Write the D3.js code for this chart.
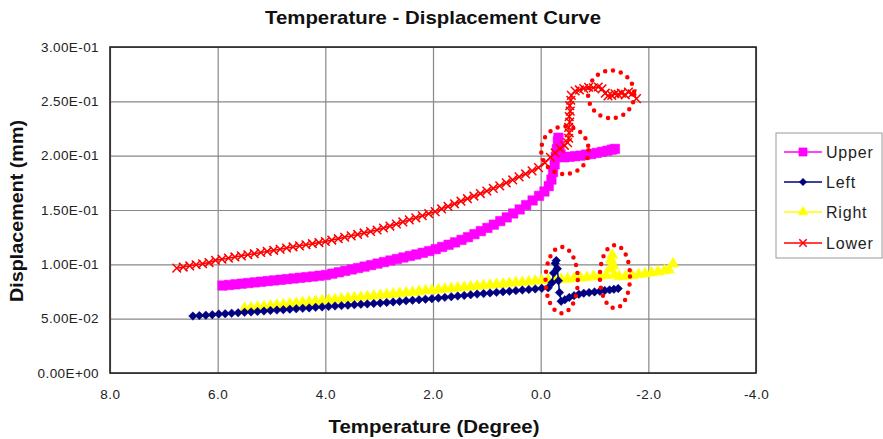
<!DOCTYPE html>
<html>
<head>
<meta charset="utf-8">
<script src="https://cdn.jsdelivr.net/npm/d3@7"></script>
<style>
  body { margin: 0; background: white; }
  svg { font-family: "Liberation Sans", Arial, sans-serif; }
</style>
</head>
<body>
<svg id="chart" width="883" height="439"></svg>
<script>
//Tick values
var xTicks = [8, 6, 4, 2, 0, -2, -4];
var yTicks = [0, 0.05, 0.1, 0.15, 0.2, 0.25, 0.3];
var yTickLabels = ["0.00E+00", "5.00E-02", "1.00E-01", "1.50E-01", "2.00E-01", "2.50E-01", "3.00E-01"];

//Series names
var seriesNames = ["Upper", "Left", "Right", "Lower"];

//Upper
var upperTemp = [5.91, 5.79, 5.67, 5.55, 5.43, 5.31, 5.19, 5.07, 4.95, 4.83, 4.71, 4.59, 4.47, 4.35, 4.23, 4.11,
    3.99, 3.87, 3.75, 3.63, 3.51, 3.39, 3.27, 3.15, 3.03, 2.91, 2.79, 2.67, 2.55, 2.43, 2.31, 2.19, 2.07,
    1.95, 1.83, 1.71, 1.59, 1.47, 1.35, 1.23, 1.11, 0.99, 0.87, 0.75, 0.63, 0.51, 0.39, 0.27, 0.15, 0.03,
    -0.07, -0.15, -0.20, -0.23, -0.26, -0.28, -0.30, -0.32, -0.33, -0.35, -0.37, -0.44, -0.54, -0.64, -0.74,
    -0.84, -0.94, -1.04, -1.14, -1.24, -1.32, -1.38];
var upperDisp = [0.0805, 0.0810, 0.0816, 0.0822, 0.0828, 0.0834, 0.0840, 0.0846, 0.0852, 0.0858, 0.0864, 0.0870, 0.0876, 0.0882, 0.0888, 0.0895,
    0.0902, 0.0914, 0.0927, 0.0940, 0.0953, 0.0966, 0.0979, 0.0993, 0.1007, 0.1021, 0.1035, 0.1049, 0.1063, 0.1077, 0.1091, 0.1106, 0.1122,
    0.1140, 0.1160, 0.1180, 0.1202, 0.1225, 0.1250, 0.1278, 0.1306, 0.1335, 0.1365, 0.1398, 0.1432, 0.1468, 0.1505, 0.1545, 0.1588, 0.1630,
    0.1670, 0.1720, 0.1780, 0.1850, 0.1920, 0.1990, 0.2060, 0.2130, 0.2165, 0.2090, 0.2010, 0.1985, 0.1990, 0.1995, 0.2000,
    0.2010, 0.2015, 0.2025, 0.2035, 0.2045, 0.2055, 0.2062];

//Left
var leftTemp = [6.46, 6.34, 6.22, 6.10, 5.98, 5.86, 5.74, 5.62, 5.50, 5.38, 5.26, 5.14, 5.02, 4.90, 4.78, 4.66,
    4.54, 4.42, 4.30, 4.18, 4.06, 3.94, 3.82, 3.70, 3.58, 3.46, 3.34, 3.22, 3.10, 2.98, 2.86, 2.74, 2.62,
    2.50, 2.38, 2.26, 2.14, 2.02, 1.90, 1.78, 1.66, 1.54, 1.42, 1.30, 1.18, 1.06, 0.94, 0.82, 0.70, 0.58,
    0.46, 0.34, 0.22, 0.10, -0.02, -0.14, -0.21, -0.24, -0.27, -0.29, -0.31, -0.33, -0.35, -0.38, -0.45,
    -0.53, -0.62, -0.71, -0.80, -0.90, -1.00, -1.10, -1.19, -1.28, -1.36, -1.44];
var leftDisp = [0.0524, 0.0528, 0.0532, 0.0537, 0.0542, 0.0546, 0.0550, 0.0554, 0.0558, 0.0562, 0.0566, 0.0570, 0.0575, 0.0579, 0.0583, 0.0587,
    0.0591, 0.0595, 0.0599, 0.0604, 0.0608, 0.0612, 0.0616, 0.0620, 0.0624, 0.0628, 0.0632, 0.0636, 0.0640, 0.0644, 0.0649, 0.0654, 0.0659,
    0.0664, 0.0669, 0.0674, 0.0679, 0.0684, 0.0690, 0.0696, 0.0702, 0.0708, 0.0714, 0.0720, 0.0726, 0.0731, 0.0737, 0.0742, 0.0747, 0.0752,
    0.0758, 0.0763, 0.0768, 0.0774, 0.0779, 0.0784, 0.0830, 0.0920, 0.1010, 0.1035, 0.0960, 0.0850, 0.0740, 0.0660, 0.0675,
    0.0695, 0.0712, 0.0725, 0.0734, 0.0740, 0.0746, 0.0752, 0.0759, 0.0765, 0.0771, 0.0777];

//Right
var rightTemp = [5.50, 5.38, 5.26, 5.14, 5.02, 4.90, 4.78, 4.66, 4.54, 4.42, 4.30, 4.18, 4.06, 3.94, 3.82, 3.70,
    3.58, 3.46, 3.34, 3.22, 3.10, 2.98, 2.86, 2.74, 2.62, 2.50, 2.38, 2.26, 2.14, 2.02, 1.90, 1.78, 1.66,
    1.54, 1.42, 1.30, 1.18, 1.06, 0.94, 0.82, 0.70, 0.58, 0.46, 0.34, 0.22, 0.10, -0.02, -0.14, -0.26, -0.38,
    -0.50, -0.62, -0.74, -0.86, -0.98, -1.10, -1.22, -1.28, -1.31, -1.33, -1.35, -1.37, -1.46, -1.58, -1.70,
    -1.82, -1.94, -2.06, -2.18, -2.30, -2.38, -2.46];
var rightDisp = [0.0594, 0.0600, 0.0606, 0.0612, 0.0618, 0.0624, 0.0630, 0.0636, 0.0642, 0.0648, 0.0654, 0.0660, 0.0666, 0.0671, 0.0676, 0.0682,
    0.0687, 0.0693, 0.0698, 0.0704, 0.0709, 0.0715, 0.0720, 0.0726, 0.0732, 0.0738, 0.0744, 0.0750, 0.0756, 0.0762, 0.0767, 0.0773, 0.0778,
    0.0784, 0.0789, 0.0794, 0.0800, 0.0805, 0.0810, 0.0815, 0.0820, 0.0826, 0.0831, 0.0835, 0.0840, 0.0846, 0.0851, 0.0855, 0.0859, 0.0862,
    0.0866, 0.0870, 0.0875, 0.0881, 0.0888, 0.0893, 0.0898, 0.0960, 0.1040, 0.1085, 0.0990, 0.0905, 0.0887, 0.0890, 0.0898,
    0.0906, 0.0914, 0.0922, 0.0932, 0.0942, 0.0950, 0.1005];

//Lower
var lowerTemp = [6.76, 6.64, 6.52, 6.40, 6.28, 6.16, 6.04, 5.92, 5.80, 5.68, 5.56, 5.44, 5.32, 5.20, 5.08, 4.96,
    4.84, 4.72, 4.60, 4.48, 4.36, 4.24, 4.12, 4.00, 3.88, 3.76, 3.64, 3.52, 3.40, 3.28, 3.16, 3.04, 2.92,
    2.80, 2.68, 2.56, 2.44, 2.32, 2.20, 2.08, 1.96, 1.84, 1.72, 1.60, 1.48, 1.36, 1.24, 1.12, 1.00, 0.88,
    0.76, 0.64, 0.52, 0.40, 0.28, 0.16, 0.04, -0.08, -0.18, -0.27, -0.36, -0.44, -0.50, -0.52, -0.53, -0.52,
    -0.54, -0.53, -0.55, -0.54, -0.56, -0.57, -0.64, -0.72, -0.80, -0.89, -0.98, -1.07, -1.14, -1.20, -1.25,
    -1.32, -1.38, -1.44, -1.50, -1.57, -1.63, -1.70, -1.78];
var lowerDisp = [0.0965, 0.0975, 0.0986, 0.0996, 0.1005, 0.1016, 0.1037, 0.1047, 0.1057, 0.1068, 0.1078, 0.1088, 0.1098, 0.1109, 0.1119, 0.1129,
    0.1139, 0.1150, 0.1160, 0.1170, 0.1180, 0.1190, 0.1200, 0.1210, 0.1223, 0.1236, 0.1249, 0.1262, 0.1275, 0.1289, 0.1302, 0.1316, 0.1334,
    0.1352, 0.1371, 0.1390, 0.1409, 0.1428, 0.1447, 0.1466, 0.1485, 0.1510, 0.1533, 0.1557, 0.1581, 0.1604, 0.1628, 0.1651, 0.1675, 0.1699,
    0.1722, 0.1750, 0.1777, 0.1805, 0.1832, 0.1860, 0.1890, 0.1935, 0.1985, 0.2025, 0.2065, 0.2095, 0.2120, 0.2160, 0.2210, 0.2260,
    0.2310, 0.2360, 0.2410, 0.2460, 0.2510, 0.2555, 0.2595, 0.2605, 0.2618, 0.2630, 0.2625, 0.2632, 0.2615, 0.2575, 0.2550,
    0.2555, 0.2570, 0.2565, 0.2575, 0.2560, 0.2585, 0.2570, 0.2525];

//Dotted circles (annotations)
var circleTemp = [-0.45, -1.31, -0.39, -1.38];
var circleDisp = [0.205, 0.2564, 0.0855, 0.0887];
var circleRadT = [0.44, 0.43, 0.30, 0.28];
var circleRadD = [0.022, 0.022, 0.0305, 0.029];

//Graph dimensions
var dimensions = {
    width: 883,
    height: 439,
    margin: {
        top: 47,
        bottom: 66,
        left: 110,
        right: 127
    }
};

var svg = d3.select("#chart");

svg.append("rect")
    .attr("width", dimensions.width)
    .attr("height", dimensions.height)
    .style("fill", "white");

//Scales
var xScale = d3.scaleLinear()
               .domain([8, -4])
               .range([dimensions.margin.left, dimensions.width - dimensions.margin.right]);

var yScale = d3.scaleLinear()
               .domain([0, 0.3])
               .range([dimensions.height - dimensions.margin.bottom, dimensions.margin.top]);

var plotW = dimensions.width - dimensions.margin.left - dimensions.margin.right;
var plotH = dimensions.height - dimensions.margin.top - dimensions.margin.bottom;

//Gridlines
var xGrid = svg.append("g")
               .attr("transform", "translate(0," + (dimensions.height - dimensions.margin.bottom) + ")")
               .call(d3.axisBottom(xScale).tickValues(xTicks).tickSize(-plotH).tickFormat(""));
xGrid.select(".domain").remove();
xGrid.selectAll("line").style("stroke", "#888").style("stroke-width", 1.2);

var yGrid = svg.append("g")
               .attr("transform", "translate(" + dimensions.margin.left + ",0)")
               .call(d3.axisLeft(yScale).tickValues(yTicks).tickSize(-plotW).tickFormat(""));
yGrid.select(".domain").remove();
yGrid.selectAll("line").style("stroke", "#888").style("stroke-width", 1.2);

//Plot border
svg.append("rect")
    .attr("x", dimensions.margin.left)
    .attr("y", dimensions.margin.top)
    .attr("width", plotW)
    .attr("height", plotH)
    .style("fill", "none")
    .style("stroke", "#222")
    .style("stroke-width", 1.6);

//Axes labels
var xAxis = svg.append("g")
               .attr("transform", "translate(0," + (dimensions.height - dimensions.margin.bottom) + ")")
               .call(d3.axisBottom(xScale).tickValues(xTicks).tickSize(0).tickPadding(16)
                       .tickFormat(function(d){ return d.toFixed(1); }));
xAxis.select(".domain").remove();
xAxis.selectAll("text")
     .style("font-family", "Liberation Sans, Arial, sans-serif")
     .style("font-size", "13.5px")
     .style("letter-spacing", "0.5px")
     .style("fill", "#222");

var yAxis = svg.append("g")
               .attr("transform", "translate(" + dimensions.margin.left + ",0)")
               .call(d3.axisLeft(yScale).tickValues(yTicks).tickSize(0).tickPadding(11)
                       .tickFormat(function(d, i){ return yTickLabels[i]; }));
yAxis.select(".domain").remove();
yAxis.selectAll("text")
     .style("font-family", "Liberation Sans, Arial, sans-serif")
     .style("font-size", "13.5px")
     .style("letter-spacing", "0.4px")
     .style("fill", "#222");

//Series setup
var series = [
    { name: seriesNames[0], temp: upperTemp, disp: upperDisp, color: "#ff00ff", symbol: d3.symbolSquare, size: 90, rotate: 0, stroke: false },
    { name: seriesNames[1], temp: leftTemp, disp: leftDisp, color: "#000080", symbol: d3.symbolSquare, size: 36, rotate: 45, stroke: false },
    { name: seriesNames[2], temp: rightTemp, disp: rightDisp, color: "#ffff00", symbol: d3.symbolTriangle, size: 55, rotate: 0, stroke: false },
    { name: seriesNames[3], temp: lowerTemp, disp: lowerDisp, color: "#ff0000", symbol: d3.symbolX, size: 50, rotate: 0, stroke: true }
];

var lineGen = d3.line()
                .x(function(d){ return xScale(d[0]); })
                .y(function(d){ return yScale(d[1]); });

function drawMarks(g, s, pts) {
    g.selectAll("path.mark")
     .data(pts)
     .enter()
     .append("path")
     .attr("class", "mark")
     .attr("d", d3.symbol().type(s.symbol).size(s.size))
     .attr("transform", function(d){
         return "translate(" + xScale(d[0]) + "," + yScale(d[1]) + ") rotate(" + s.rotate + ")";
     })
     .style("fill", s.stroke ? "none" : s.color)
     .style("stroke", s.color)
     .style("stroke-width", s.stroke ? 1.5 : 0.5);
}

//Draw order: Right, Left, Upper, Lower
[2, 1, 0, 3].forEach(function(i){
    var s = series[i];
    var pts = s.temp.map(function(t, j){ return [t, s.disp[j]]; });
    var g = svg.append("g");
    g.append("path")
     .datum(pts)
     .attr("d", lineGen)
     .style("fill", "none")
     .style("stroke", s.color)
     .style("stroke-width", 1.5);
    drawMarks(g, s, pts);
});

//Dotted circles
var circles = circleTemp.map(function(t, i){
    return { t: t, d: circleDisp[i], rt: circleRadT[i], rd: circleRadD[i] };
});
svg.append("g")
   .selectAll("ellipse")
   .data(circles)
   .enter()
   .append("ellipse")
   .attr("cx", function(d){ return xScale(d.t); })
   .attr("cy", function(d){ return yScale(d.d); })
   .attr("rx", function(d){ return Math.abs(xScale(d.t + d.rt) - xScale(d.t)); })
   .attr("ry", function(d){ return Math.abs(yScale(d.d + d.rd) - yScale(d.d)); })
   .style("fill", "none")
   .style("stroke", "#ff0000")
   .style("stroke-width", 4.5)
   .style("stroke-linecap", "round")
   .style("stroke-dasharray", "0 8");

//Title
svg.append("text")
   .attr("x", (dimensions.margin.left + dimensions.width - dimensions.margin.right) / 2)
   .attr("y", 24)
   .attr("text-anchor", "middle")
   .attr("textLength", 336)
   .attr("lengthAdjust", "spacingAndGlyphs")
   .style("font-size", "19px")
   .style("font-weight", "bold")
   .style("fill", "#111")
   .text("Temperature - Displacement Curve");

//X-axis title
svg.append("text")
   .attr("x", 434)
   .attr("y", 433)
   .attr("text-anchor", "middle")
   .attr("textLength", 211)
   .attr("lengthAdjust", "spacingAndGlyphs")
   .style("font-size", "19px")
   .style("font-weight", "bold")
   .style("fill", "#111")
   .text("Temperature (Degree)");

//Y-axis title
svg.append("text")
   .attr("transform", "rotate(-90)")
   .attr("x", -211)
   .attr("y", 23)
   .attr("text-anchor", "middle")
   .attr("textLength", 182)
   .attr("lengthAdjust", "spacingAndGlyphs")
   .style("font-size", "18px")
   .style("font-weight", "bold")
   .style("fill", "#111")
   .text("Displacement (mm)");

//Legend
var legend = svg.append("g");
legend.append("rect")
      .attr("x", 776)
      .attr("y", 133)
      .attr("width", 106)
      .attr("height", 125)
      .style("fill", "white")
      .style("stroke", "#999")
      .style("stroke-width", 1);

var legendY = [152, 182, 212, 243];
series.forEach(function(s, i){
    var g = legend.append("g");
    g.append("line")
     .attr("x1", 784)
     .attr("x2", 822)
     .attr("y1", legendY[i])
     .attr("y2", legendY[i])
     .style("stroke", s.color)
     .style("stroke-width", 1.5);
    drawMarks(g, { symbol: s.symbol, size: s.size * 0.75, rotate: s.rotate, stroke: s.stroke, color: s.color },
              [[xScale.invert(803), yScale.invert(legendY[i])]]);
    g.append("text")
     .attr("x", 826)
     .attr("y", legendY[i] + 6)
     .style("font-size", "16px")
     .style("letter-spacing", "0.8px")
     .style("fill", "#222")
     .text(s.name);
});
</script>
</body>
</html>
